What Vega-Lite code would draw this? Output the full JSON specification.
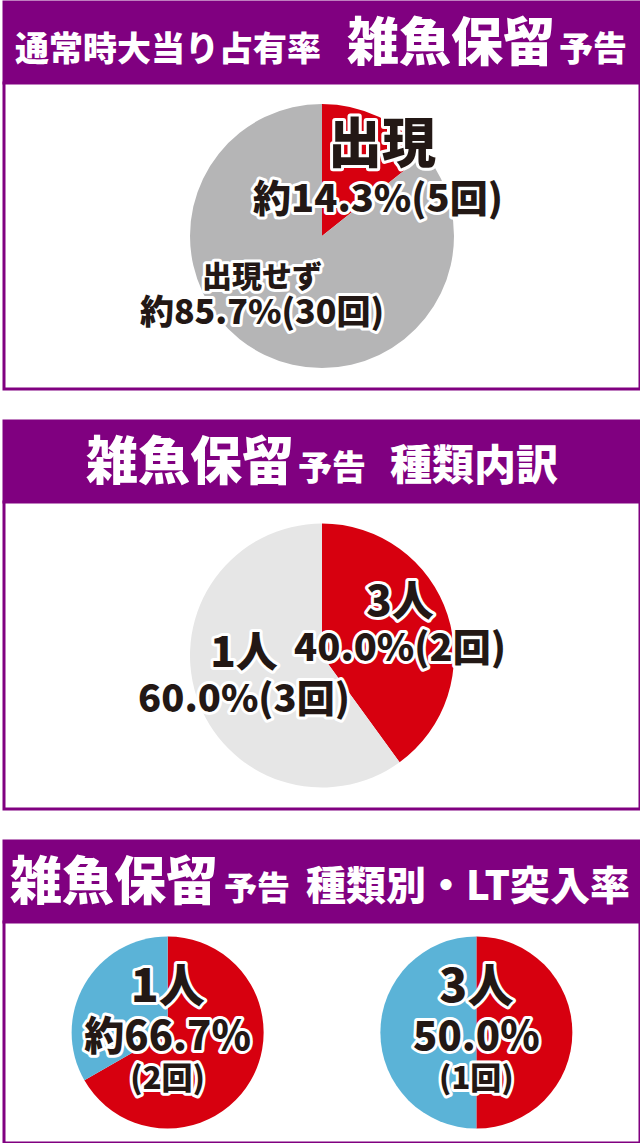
{
  "$schema": "https://vega.github.io/schema/vega-lite/v6.json",
  "description": "雑魚保留予告 infographic",
  "background": "white",
  "padding": {"left": 2, "right": 2, "top": 0, "bottom": 2},
  "spacing": 28,
  "resolve": {"scale": {"color": "independent", "theta": "independent", "x": "independent"}},
  "config": {
    "view": {"stroke": null},
    "text": {"font": "Noto Sans CJK JP", "fontWeight": 900}
  },
  "datasets": {
    "share": [
      {"label": "出現", "detail": "約14.3%(5回)", "pct": 14.3, "count": 5, "order": 1},
      {"label": "出現せず", "detail": "約85.7%(30回)", "pct": 85.7, "count": 30, "order": 2}
    ],
    "types": [
      {"label": "3人", "detail": "40.0%(2回)", "pct": 40.0, "count": 2, "order": 1},
      {"label": "1人", "detail": "60.0%(3回)", "pct": 60.0, "count": 3, "order": 2}
    ],
    "lt": [
      {"kind": "1人", "result": "LT突入", "pct": 66.7, "order": 1},
      {"kind": "1人", "result": "非突入", "pct": 33.3, "order": 2},
      {"kind": "3人", "result": "LT突入", "pct": 50.0, "order": 1},
      {"kind": "3人", "result": "非突入", "pct": 50.0, "order": 2}
    ],
    "ltLabels": [
      {"kind": "1人", "rate": "約66.7%", "count": "(2回)"},
      {"kind": "3人", "rate": "50.0%", "count": "(1回)"}
    ]
  },
  "vconcat": [
    {
      "spacing": 0,
      "bounds": "flush",
      "resolve": {"scale": {"color": "independent", "theta": "independent"}},
      "vconcat": [
        {
          "width": 636,
          "height": 81,
          "view": {"fill": "#800080", "stroke": "#800080", "strokeWidth": 3},
          "data": {"values": [{}]},
          "layer": [
            {"mark": {"type": "text", "text": "通常時大当り占有率", "fontSize": 34, "align": "left", "baseline": "alphabetic", "dx": -307, "dy": 18.5, "fill": "white"}, "encoding": {}},
            {"mark": {"type": "text", "text": "雑魚保留", "fontSize": 52, "align": "left", "baseline": "alphabetic", "dx": 25, "dy": 18.5, "fill": "white"}, "encoding": {}},
            {"mark": {"type": "text", "text": "予告", "fontSize": 34, "align": "left", "baseline": "alphabetic", "dx": 237, "dy": 18.5, "fill": "white"}, "encoding": {}}
          ]
        },
        {
          "width": 636,
          "height": 306,
          "view": {"fill": "white", "stroke": "#800080", "strokeWidth": 3},
          "data": {"name": "share"},
          "layer": [
            {
              "mark": {"type": "arc", "outerRadius": 132},
              "encoding": {
                "theta": {"field": "pct", "type": "quantitative", "stack": true},
                "order": {"field": "order", "type": "quantitative"},
                "color": {"field": "label", "type": "nominal", "legend": null,
                  "scale": {"domain": ["出現", "出現せず"], "range": ["#d7000f", "#b5b5b6"]}}
              }
            },
            {
              "transform": [{"filter": "datum.order == 1"}],
              "layer": [
                {"mark": {"type": "text", "dx": 60, "dy": -89, "fontSize": 54, "stroke": "white", "strokeWidth": 6, "strokeJoin": "round", "fill": "white"}, "encoding": {"text": {"field": "label"}}},
                {"mark": {"type": "text", "dx": 60, "dy": -89, "fontSize": 54, "fill": "#231815"}, "encoding": {"text": {"field": "label"}}},
                {"mark": {"type": "text", "dx": 56, "dy": -35, "fontSize": 38, "stroke": "white", "strokeWidth": 6, "strokeJoin": "round", "fill": "white"}, "encoding": {"text": {"field": "detail"}}},
                {"mark": {"type": "text", "dx": 56, "dy": -35, "fontSize": 38, "fill": "#231815"}, "encoding": {"text": {"field": "detail"}}}
              ]
            },
            {
              "transform": [{"filter": "datum.order == 2"}],
              "layer": [
                {"mark": {"type": "text", "dx": -60, "dy": 42, "fontSize": 30, "stroke": "white", "strokeWidth": 6, "strokeJoin": "round", "fill": "white"}, "encoding": {"text": {"field": "label"}}},
                {"mark": {"type": "text", "dx": -60, "dy": 42, "fontSize": 30, "fill": "#231815"}, "encoding": {"text": {"field": "label"}}},
                {"mark": {"type": "text", "dx": -60, "dy": 78, "fontSize": 34, "stroke": "white", "strokeWidth": 6, "strokeJoin": "round", "fill": "white"}, "encoding": {"text": {"field": "detail"}}},
                {"mark": {"type": "text", "dx": -60, "dy": 78, "fontSize": 34, "fill": "#231815"}, "encoding": {"text": {"field": "detail"}}}
              ]
            }
          ]
        }
      ]
    },
    {
      "spacing": 0,
      "bounds": "flush",
      "resolve": {"scale": {"color": "independent", "theta": "independent"}},
      "vconcat": [
        {
          "width": 636,
          "height": 81,
          "view": {"fill": "#800080", "stroke": "#800080", "strokeWidth": 3},
          "data": {"values": [{}]},
          "layer": [
            {"mark": {"type": "text", "text": "雑魚保留", "fontSize": 52, "align": "left", "baseline": "alphabetic", "dx": -236, "dy": 18.5, "fill": "white"}, "encoding": {}},
            {"mark": {"type": "text", "text": "予告", "fontSize": 34, "align": "left", "baseline": "alphabetic", "dx": -24, "dy": 18.5, "fill": "white"}, "encoding": {}},
            {"mark": {"type": "text", "text": "種類内訳", "fontSize": 42, "align": "left", "baseline": "alphabetic", "dx": 68, "dy": 18.5, "fill": "white"}, "encoding": {}}
          ]
        },
        {
          "width": 636,
          "height": 307,
          "view": {"fill": "white", "stroke": "#800080", "strokeWidth": 3},
          "data": {"name": "types"},
          "encoding": {
            "theta": {"field": "pct", "type": "quantitative", "stack": true},
            "order": {"field": "order", "type": "quantitative"}
          },
          "layer": [
            {
              "mark": {"type": "arc", "outerRadius": 132},
              "encoding": {
                "color": {"field": "label", "type": "nominal", "legend": null,
                  "scale": {"domain": ["3人", "1人"], "range": ["#d7000f", "#e6e6e6"]}}
              }
            },
            {"mark": {"type": "text", "radius": 82, "dy": -27, "fontSize": 42, "stroke": "white", "strokeWidth": 6, "strokeJoin": "round", "fill": "white"}, "encoding": {"text": {"field": "label"}}},
            {"mark": {"type": "text", "radius": 82, "dy": -27, "fontSize": 42, "fill": "#231815"}, "encoding": {"text": {"field": "label"}}},
            {"mark": {"type": "text", "radius": 82, "dy": 20, "fontSize": 38, "stroke": "white", "strokeWidth": 6, "strokeJoin": "round", "fill": "white"}, "encoding": {"text": {"field": "detail"}}},
            {"mark": {"type": "text", "radius": 82, "dy": 20, "fontSize": 38, "fill": "#231815"}, "encoding": {"text": {"field": "detail"}}}
          ]
        }
      ]
    },
    {
      "spacing": 0,
      "bounds": "flush",
      "resolve": {"scale": {"color": "independent", "theta": "independent", "x": "independent"}},
      "vconcat": [
        {
          "width": 636,
          "height": 81,
          "view": {"fill": "#800080", "stroke": "#800080", "strokeWidth": 3},
          "data": {"values": [{}]},
          "layer": [
            {"mark": {"type": "text", "text": "雑魚保留", "fontSize": 52, "align": "left", "baseline": "alphabetic", "dx": -312, "dy": 18.5, "fill": "white"}, "encoding": {}},
            {"mark": {"type": "text", "text": "予告", "fontSize": 33, "align": "left", "baseline": "alphabetic", "dx": -98, "dy": 18.5, "fill": "white"}, "encoding": {}},
            {"mark": {"type": "text", "text": "種類別・LT突入率", "fontSize": 40, "align": "left", "baseline": "alphabetic", "dx": -16, "dy": 18.5, "fill": "white"}, "encoding": {}}
          ]
        },
        {
          "width": 636,
          "height": 221,
          "view": {"fill": "white", "stroke": "#800080", "strokeWidth": 3},
          "layer": [
            {
              "data": {"name": "lt"},
              "transform": [
                {"stack": "pct", "groupby": ["kind"], "sort": [{"field": "order", "order": "ascending"}], "as": ["t0", "t1"]}
              ],
              "mark": {"type": "arc", "outerRadius": 96},
              "encoding": {
                "x": {"field": "kind", "type": "nominal", "axis": null, "scale": {"type": "point", "padding": 0.53}},
                "theta": {"field": "t0", "type": "quantitative", "scale": {"domain": [0, 100]}},
                "theta2": {"field": "t1"},
                "color": {"field": "result", "type": "nominal", "legend": null,
                  "scale": {"domain": ["LT突入", "非突入"], "range": ["#d7000f", "#5bb3d7"]}}
              }
            },
            {
              "data": {"name": "ltLabels"},
              "encoding": {
                "x": {"field": "kind", "type": "nominal", "axis": null, "scale": {"type": "point", "padding": 0.53}}
              },
              "layer": [
                {"mark": {"type": "text", "dy": -45, "fontSize": 46, "stroke": "white", "strokeWidth": 6, "strokeJoin": "round", "fill": "white"}, "encoding": {"text": {"field": "kind"}}},
                {"mark": {"type": "text", "dy": -45, "fontSize": 46, "fill": "#231815"}, "encoding": {"text": {"field": "kind"}}},
                {"mark": {"type": "text", "dy": 5, "fontSize": 40, "stroke": "white", "strokeWidth": 6, "strokeJoin": "round", "fill": "white"}, "encoding": {"text": {"field": "rate"}}},
                {"mark": {"type": "text", "dy": 5, "fontSize": 40, "fill": "#231815"}, "encoding": {"text": {"field": "rate"}}},
                {"mark": {"type": "text", "dy": 47, "fontSize": 31, "stroke": "white", "strokeWidth": 6, "strokeJoin": "round", "fill": "white"}, "encoding": {"text": {"field": "count"}}},
                {"mark": {"type": "text", "dy": 47, "fontSize": 31, "fill": "#231815"}, "encoding": {"text": {"field": "count"}}}
              ]
            }
          ]
        }
      ]
    }
  ]
}
